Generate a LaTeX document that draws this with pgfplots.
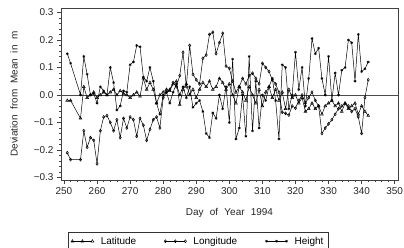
\documentclass[border=0pt]{standalone}
\usepackage{fontspec}
\setmainfont{Liberation Sans}
\usepackage{pgfplots}
\usepackage{pgfplotstable}
\pgfplotsset{compat=1.18}
\pgfplotstableread{
day lat lon hgt
251 -0.020 -0.210 0.150
252 -0.020 -0.235 0.115
255 -0.085 -0.235 0.000
256 0.030 -0.130 0.140
257 -0.010 -0.190 0.075
258 0.000 -0.155 0.000
259 0.010 -0.165 0.005
260 -0.010 -0.250 -0.030
261 0.000 -0.130 0.030
262 0.010 -0.080 0.015
263 0.000 -0.075 0.000
264 0.010 -0.100 0.100
265 0.020 -0.130 0.045
266 0.000 -0.090 -0.055
267 0.015 -0.155 -0.040
268 0.005 -0.085 0.015
269 0.000 -0.120 0.010
270 -0.010 -0.080 0.110
271 0.000 -0.090 0.120
272 0.010 -0.150 0.180
273 -0.005 -0.085 0.175
274 0.060 -0.110 0.065
275 0.020 -0.165 0.050
276 0.045 -0.125 0.100
277 0.020 -0.090 0.050
278 -0.030 -0.080 -0.030
279 0.000 -0.120 -0.070
280 0.010 -0.010 0.000
281 0.020 0.010 0.010
282 0.015 0.020 -0.030
283 0.040 0.045 0.010
284 0.050 0.030 0.040
285 -0.035 0.070 0.000
286 0.020 0.155 0.030
287 0.040 0.030 -0.010
288 0.000 0.180 0.030
289 0.020 0.075 -0.045
290 -0.010 0.055 -0.030
291 0.020 0.040 -0.020
292 0.045 0.133 -0.060
293 0.030 0.145 -0.140
294 0.050 0.220 -0.155
295 0.020 0.228 -0.065
296 0.030 0.150 -0.085
297 0.060 0.190 0.000
298 0.045 0.224 -0.050
299 0.020 0.105 0.030
300 0.040 0.097 -0.100
301 0.000 0.050 0.130
302 -0.030 0.010 -0.160
303 0.030 0.030 -0.120
304 0.010 0.060 0.000
305 -0.020 0.040 -0.150
306 0.030 0.070 0.140
307 0.000 0.079 -0.130
308 -0.030 0.060 0.050
309 0.020 0.040 -0.120
310 -0.040 0.115 0.000
311 0.010 0.100 -0.020
312 0.030 0.085 0.030
313 -0.010 0.055 0.060
314 0.020 0.040 -0.020
315 -0.020 0.010 -0.160
316 0.010 -0.063 0.110
317 -0.050 -0.067 0.100
318 0.020 -0.073 -0.050
319 -0.010 -0.040 0.000
320 0.000 -0.048 0.155
321 -0.030 -0.020 0.020
322 -0.010 0.000 0.100
323 -0.060 -0.030 -0.040
324 -0.050 -0.010 0.060
325 -0.030 0.010 0.205
326 -0.050 -0.020 0.150
327 -0.040 -0.040 0.170
328 -0.070 -0.140 0.060
329 -0.040 -0.120 0.000
330 -0.030 -0.105 0.140
331 -0.020 -0.090 -0.020
332 -0.040 -0.070 0.080
333 -0.030 -0.050 0.000
334 -0.060 -0.040 0.090
335 -0.030 -0.030 0.100
336 -0.050 -0.040 0.200
337 -0.040 -0.060 0.190
338 -0.030 -0.050 0.050
339 -0.070 -0.080 0.220
340 -0.040 -0.140 0.085
341 -0.060 -0.010 0.095
342 -0.075 0.055 0.120
}\data
\begin{document}
\begin{tikzpicture}
\useasboundingbox (-61bp,-68bp) rectangle (343bp,180bp);
\begin{axis}[
  at={(0,0)}, anchor=south west,
  scale only axis, width=337bp, height=172bp,
  xmin=249.1, xmax=351, ymin=-0.309, ymax=0.316,
  xtick={250,260,270,280,290,300,310,320,330,340,350},
  ytick={-0.3,-0.2,-0.1,0,0.1,0.2,0.3},
  yticklabels={−0.3,−0.2,−0.1,0.0,0.1,0.2,0.3},
  minor x tick num=4, minor y tick num=4,
  tick align=outside, xtick pos=left, ytick pos=left,
  major tick length=4bp, minor tick length=2bp,
  /pgf/number format/assume math mode=true,
  axis line style={black!75, line width=0.6pt},
  every tick/.style={black!75, line width=0.5pt},
  tick label style={font=\fontsize{10}{12}\selectfont, text=black!85},
  label style={font=\fontsize{10}{12}\selectfont, text=black!85},
  xlabel={Day\hspace{0.35em} of\hspace{0.35em} Year\hspace{0.35em} 1994},
  ylabel={Deviation\hspace{0.3em} from\hspace{0.3em} Mean\hspace{0.3em} in\hspace{0.3em} m},
  xlabel style={at={(axis description cs:0.5,-0.19)}, anchor=center},
  ylabel style={at={(axis description cs:-0.139,0.5)}, anchor=center},
  legend columns=3,
  legend style={at={(axis description cs:0.02,-0.30)}, anchor=north west,
    draw=black!80, line width=0.6pt, font=\fontsize{10}{12}\selectfont,
    inner xsep=3bp, inner ysep=3bp,
    /tikz/every odd column/.append style={column sep=5bp},
    /tikz/every even column/.append style={column sep=26bp}},
  legend image code/.code={\draw[#1] plot coordinates {(0bp,0bp) (10bp,0bp) (20bp,0bp)};},
]
\addplot[black!70, line width=0.7pt, forget plot] coordinates {(249.1,0) (351,0)};
\addplot[black, line width=0.5pt, mark=triangle, mark size=1.6pt, mark options={fill=white, solid}] table[x=day, y=lat] {\data};
\addlegendentry{Latitude}
\addplot[black, line width=0.5pt, mark=diamond, mark size=1.5pt, mark options={fill=white, solid}] table[x=day, y=lon] {\data};
\addlegendentry{Longitude}
\addplot[black, line width=0.5pt, mark=asterisk, mark size=1.4pt, mark options={solid}] table[x=day, y=hgt] {\data};
\addlegendentry{Height}
\end{axis}
\end{tikzpicture}
\end{document}
